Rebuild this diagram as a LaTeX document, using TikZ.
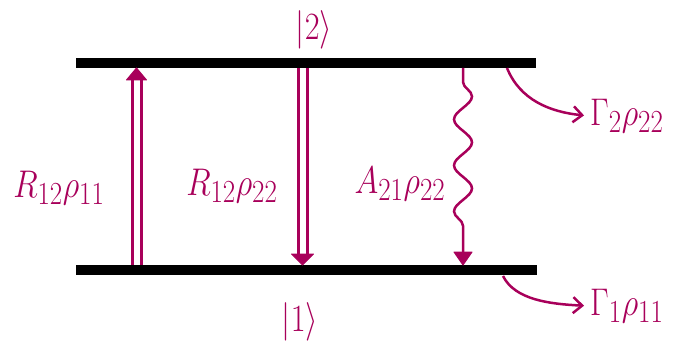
\documentclass[tikz,border=0pt]{standalone}
\usepackage{graphicx}
\usetikzlibrary{arrows.meta,decorations.pathmorphing}
\definecolor{mag}{RGB}{168,0,90}
\newcommand{\biglab}[1]{\scalebox{1.3}[1.55]{\Huge$#1$}}
\begin{document}
\begin{tikzpicture}[x=1pt,y=-1pt,
  level/.style={line width=10pt,black},
  rail/.style={mag,line width=3pt},
  head/.style={fill=mag,draw=mag,line width=1pt,line join=round},
  lab/.style={mag,inner sep=0pt},
  curv/.style={mag,line width=2.5pt,shorten >=6pt,-{Straight Barb[length=9pt,width=16pt]}}]
\useasboundingbox (0,0) rectangle (690,342);
% levels
\coordinate (tL) at (76,63); \coordinate (tR) at (536,63);
\coordinate (bL) at (76,270); \coordinate (bR) at (537,270);
\draw[level] (tL) -- (tR);
\draw[level] (bL) -- (bR);
% up arrow R12 rho11
\coordinate (u1) at (132,265); \coordinate (u2) at (132,78);
\coordinate (u3) at (141,265); \coordinate (u4) at (141,78);
\draw[rail] (u1) -- (u2);
\draw[rail] (u3) -- (u4);
\coordinate (uh) at (136.5,68);
\fill[head] (uh) -- ++(-10,12) -- ++(20,0) -- cycle;
% down arrow R12 rho22
\coordinate (d1) at (298,68); \coordinate (d2) at (298,255);
\coordinate (d3) at (307,68); \coordinate (d4) at (307,255);
\draw[rail] (d1) -- (d2);
\draw[rail] (d3) -- (d4);
\coordinate (dh) at (302.5,265);
\fill[head] (dh) -- ++(-11,-11) -- ++(22,0) -- cycle;
% wavy A21 rho22
\coordinate (w0) at (463,68); \coordinate (w1) at (463,252);
\draw[rail,line width=2.5pt,decorate,decoration={snake,amplitude=9pt,segment length=46pt,pre length=14pt,post length=8pt}] (w0) -- (w1);
\coordinate (wh) at (463,265);
\fill[head] (wh) -- ++(-9,-13) -- ++(18,0) -- cycle;
% decay curves
\node[lab,anchor=west] (g2) at (590,116) {\biglab{\Gamma_2\rho_{22}}};
\node[lab,anchor=west] (g1) at (590,306) {\biglab{\Gamma_1\rho_{11}}};
\coordinate (c2) at (507,68);
\coordinate (c1) at (503,276);
\draw[curv] (c2) .. controls (520,100) and (550,112) .. (g2.west);
\draw[curv] (c1) .. controls (515,300) and (550,304) .. (g1.west);
% labels
\node[lab] (k2) at (314,30) {\biglab{|2\rangle}};
\node[lab] (k1) at (300,322) {\biglab{|1\rangle}};
\node[lab] (r1) at (59,188) {\biglab{R_{12}\rho_{11}}};
\node[lab] (r2) at (232,186) {\biglab{R_{12}\rho_{22}}};
\node[lab] (a1) at (400,184) {\biglab{A_{21}\rho_{22}}};
\end{tikzpicture}
\end{document}
